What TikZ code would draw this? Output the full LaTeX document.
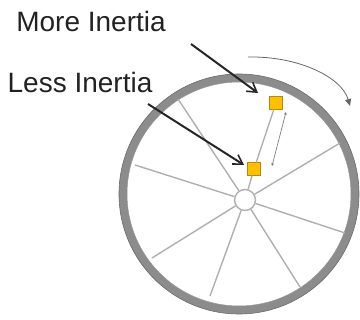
\documentclass[tikz,border=0pt]{standalone}
\usepackage{fontspec}
\setmainfont{Liberation Sans}
\usetikzlibrary{arrows.meta}
\definecolor{rimgray}{HTML}{8C8C8C}
\definecolor{rimdark}{HTML}{6A6A6A}
\definecolor{spokegray}{HTML}{AFAFAF}
\definecolor{massfill}{HTML}{FFC000}
\definecolor{massedge}{HTML}{B88A00}
\definecolor{txt}{HTML}{222222}
\tikzset{
  spoke/.style={draw=spokegray, line width=1.4pt},
  mass/.style={draw=massedge, fill=massfill, line width=0.8pt, minimum size=12.5pt, inner sep=0pt},
  pointer/.style={draw=black!85, line width=2pt, -{Straight Barb[length=9pt,width=11pt,line width=1.6pt]}},
  label/.style={text=txt, font=\fontsize{28}{30}\selectfont, inner sep=0pt},
}
\begin{document}
\begin{tikzpicture}[x=1pt,y=-1pt]
\useasboundingbox (0,0) rectangle (360,320);
% rim
\coordinate (c) at (239,194);
\draw[rimgray, line width=8pt] (c) circle[radius=116pt];
\draw[rimdark, line width=0.6pt] (c) circle[radius=120pt];
\draw[rimdark!70, line width=0.5pt] (c) circle[radius=112pt];
% hub
\node[circle, draw=spokegray, fill=white, line width=1.4pt, minimum size=21pt, inner sep=0pt] (hub) at (245,200) {};
% spoke ends
\coordinate (s1) at (178,99);
\coordinate (s3) at (340,143);
\coordinate (s4) at (345,233);
\coordinate (s5) at (300,287);
\coordinate (s6) at (210,296);
\coordinate (s7) at (152,258);
\coordinate (s8) at (135,165);
\node[mass] (mtop) at (276,103) {};
\node[mass] (mlow) at (254,169) {};
\foreach \s in {s1,s3,s4,s5,s6,s7,s8} \draw[spoke] (hub) -- (\s);
\draw[spoke] (hub) -- (mlow);
\draw[spoke] (mlow) -- (mtop);
% distance arrow
\coordinate (d1) at (286,112);
\coordinate (d2) at (272,166);
\draw[gray, line width=0.7pt, {Stealth[length=3pt,width=3pt]}-{Stealth[length=3pt,width=3pt]}] (d1) -- (d2);
% rotation arrow
\coordinate (r1) at (248,57);
\coordinate (r2) at (350,106);
\draw[line width=0.8pt, -{Triangle[length=7pt,width=6pt]}, draw=gray!80!black] (r1) .. controls (300,56) and (342,78) .. (r2);
% labels
\node[label] (more) at (91,21) {More Inertia};
\node[label] (less) at (80,82) {Less Inertia};
\coordinate (a1) at (191,44);
\coordinate (a2) at (258,93);
\coordinate (b1) at (148,104);
\coordinate (b2) at (244,165);
\draw[pointer] (a1) -- (a2);
\draw[pointer] (b1) -- (b2);
\end{tikzpicture}
\end{document}
